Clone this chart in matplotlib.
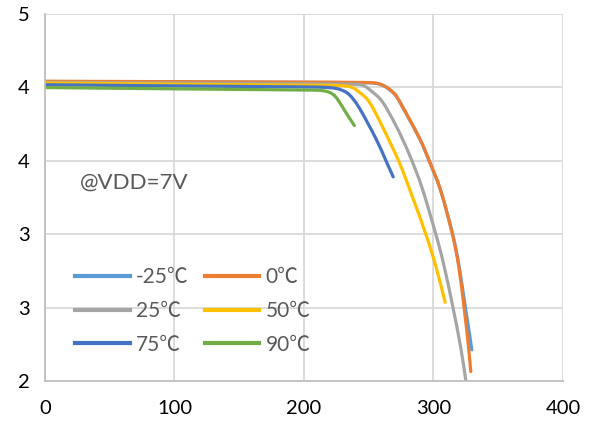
import matplotlib.pyplot as plt
from matplotlib.path import Path
from matplotlib.patches import PathPatch
from matplotlib.lines import Line2D

# Data
labels = ['-25℃', '0℃', '25℃', '50℃', '75℃', '90℃']
colors = ['#5B9BD5', '#ED7D31', '#A5A5A5', '#FFC000', '#4472C4', '#70AD47']

x_m25 = [0, 100, 200, 240, 255, 262, 267, 271, 276, 281, 290, 296.7, 305.5, 314.8, 319.8, 324.3, 327.3, 329.6]
y_m25 = [4.040, 4.037, 4.034, 4.032, 4.028, 4.008, 3.978, 3.943, 3.868, 3.788, 3.638, 3.498, 3.298, 3.0, 2.78, 2.52, 2.35, 2.212]

x_0 = [0, 100, 200, 240, 255, 262, 267, 271, 276, 281, 290, 296.7, 305.5, 314.6, 319.5, 323.6, 326.5, 328.8]
y_0 = [4.042, 4.039, 4.036, 4.034, 4.030, 4.01, 3.98, 3.945, 3.87, 3.79, 3.64, 3.5, 3.30, 3.0, 2.78, 2.50, 2.28, 2.064]

x_25 = [0, 100, 200, 235, 245, 252, 260.7, 271, 281, 291, 301.8, 308, 314.6, 321, 325]
y_25 = [4.035, 4.030, 4.025, 4.022, 4.015, 3.975, 3.90, 3.74, 3.55, 3.32, 3.0, 2.79, 2.52, 2.23, 2.0]

x_50 = [0, 100, 200, 228, 237, 243, 250.5, 260.7, 273.5, 283.5, 294.1, 301.8, 309]
y_50 = [4.030, 4.022, 4.015, 4.012, 4.0, 3.965, 3.90, 3.73, 3.49, 3.26, 3.0, 2.782, 2.536]

x_75 = [0, 100, 200, 220, 228, 235, 242.7, 255.6, 263.3, 268.9]
y_75 = [4.018, 4.010, 4.003, 3.998, 3.985, 3.95, 3.86, 3.65, 3.50, 3.39]

x_90 = [0, 100, 200, 214, 220, 224, 227.3, 233, 238.9]
y_90 = [3.999, 3.990, 3.982, 3.978, 3.965, 3.94, 3.90, 3.82, 3.74]

series_x = [x_m25, x_0, x_25, x_50, x_75, x_90]
series_y = [y_m25, y_0, y_25, y_50, y_75, y_90]

x_ticks = [0, 100, 200, 300, 400]
y_ticks = [2.0, 2.5, 3.0, 3.5, 4.0, 4.5]
y_tick_labels = ['2', '3', '3', '4', '4', '5']


def smooth_path(xs, ys):
    # Excel-style smoothed line: bezier segments through the points
    pts = list(zip(xs, ys))
    n = len(pts)
    verts = [pts[0]]
    codes = [Path.MOVETO]
    for i in range(n - 1):
        p0 = pts[i - 1] if i > 0 else pts[i]
        p1 = pts[i]
        p2 = pts[i + 1]
        p3 = pts[i + 2] if i + 2 < n else pts[i + 1]
        c1 = (p1[0] + (p2[0] - p0[0]) / 6, p1[1] + (p2[1] - p0[1]) / 6)
        c2 = (p2[0] - (p3[0] - p1[0]) / 6, p2[1] - (p3[1] - p1[1]) / 6)
        verts += [c1, c2, p2]
        codes += [Path.CURVE4] * 3
    return Path(verts, codes)


font = ['Lato', 'Noto Sans CJK SC', 'DejaVu Sans']
plt.rcParams['font.family'] = font

fig = plt.figure(figsize=(5.92, 4.24), dpi=100)
ax = fig.add_axes([0.076, 0.1014, 0.875, 0.8656])

handles = []
for xs, ys, c, lab in zip(series_x, series_y, colors, labels):
    patch = PathPatch(smooth_path(xs, ys), facecolor='none', edgecolor=c, lw=2.3,
                      capstyle='round', joinstyle='round')
    ax.add_patch(patch)
    handles.append(Line2D([], [], color=c, lw=3, label=lab))

ax.set_xlim(0, 400)
ax.set_ylim(2.0, 4.5)
ax.set_xticks(x_ticks)
ax.set_yticks(y_ticks)
ax.set_yticklabels(y_tick_labels)
ax.tick_params(length=0, labelsize=14.5, colors='black')
ax.tick_params(axis='y', pad=11)
ax.tick_params(axis='x', pad=14)

ax.grid(True, color='#d9d9d9', lw=1.3)
ax.set_axisbelow(True)
for s in ['top', 'right']:
    ax.spines[s].set_visible(False)
for s in ['left', 'bottom']:
    ax.spines[s].set_color('#bfbfbf')
    ax.spines[s].set_linewidth(1.3)

ax.text(0.068, 0.54, '@VDD=7V', transform=ax.transAxes, fontsize=16,
        color='#595959', va='center', ha='left')

# legend is filled row by row in the reference
order = [0, 2, 4, 1, 3, 5]
leg = ax.legend([handles[i] for i in order], [labels[i] for i in order],
                ncol=2, loc='center', bbox_to_anchor=(0.286, 0.191), frameon=False,
                fontsize=15, handlelength=2.6, handletextpad=0.3, columnspacing=0.8,
                labelspacing=0.66)
for t in leg.get_texts():
    t.set_color('#595959')

fig.savefig('out.png', dpi=100)
